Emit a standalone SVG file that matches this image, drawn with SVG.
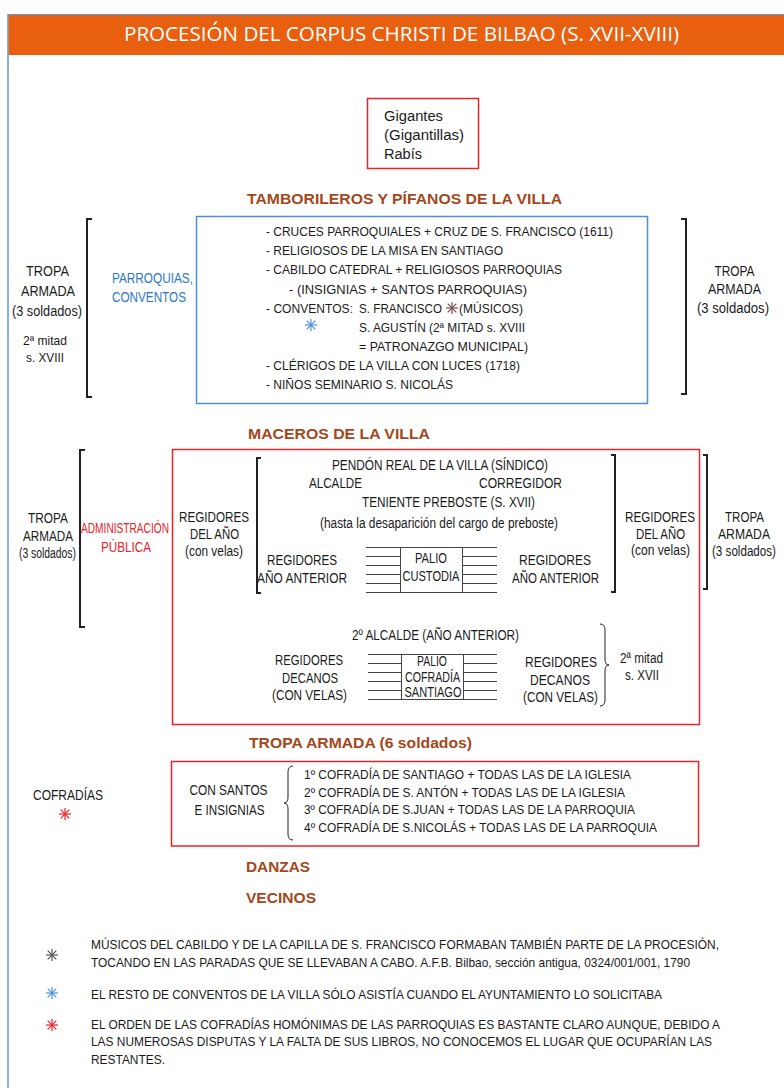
<svg xmlns="http://www.w3.org/2000/svg" xmlns:xlink="http://www.w3.org/1999/xlink" width="784" height="1088" viewBox="0 0 784 1088">
<style>
.t{font-family:"Liberation Sans",Arial,sans-serif;font-size:14px;fill:#1a1a1a}
.s{font-size:13px}
.c{text-anchor:middle}
.h{font-family:"Liberation Sans",Arial,sans-serif;font-weight:bold;font-size:15.5px;fill:#A4471B}
.blue{fill:#2C78C6}
.red{fill:#E8232A}
.br{fill:none;stroke:#222;stroke-width:2}
.ln{stroke:#444;stroke-width:1}
.box{fill:#fff;stroke:#444;stroke-width:1}
.rbox{fill:none;stroke:#E8232A;stroke-width:1.5}
.bbox{fill:none;stroke:#4A90D9;stroke-width:1.5}
.brace{fill:none;stroke:#222;stroke-width:1}
</style>
<defs>
<g id="ast" stroke-width="1.2"><line x1="0" y1="-6" x2="0" y2="6"/><line x1="-6" y1="0" x2="6" y2="0"/><line x1="-4.3" y1="-4.3" x2="4.3" y2="4.3"/><line x1="-4.3" y1="4.3" x2="4.3" y2="-4.3"/></g>
</defs>
<rect width="784" height="1088" fill="#fff"/>
<line x1="8" y1="14" x2="8" y2="1088" stroke="#5B9BD5" stroke-width="1.5"/>
<line x1="8" y1="14.5" x2="784" y2="14.5" stroke="#5B9BD5" stroke-width="1"/>
<g id="header">
<rect x="8.5" y="15" width="775.5" height="40" fill="#E8600F"/>
<text x="401.5" y="40.5" text-anchor="middle" font-family="'Open Sans',sans-serif" font-size="20" fill="#fff" textLength="555" lengthAdjust="spacingAndGlyphs">PROCESIÓN DEL CORPUS CHRISTI DE BILBAO (S. XVII-XVIII)</text>
</g>
<g id="gigantes">
<rect x="367.5" y="98.5" width="111" height="70" class="rbox"/>
<text class="t" font-size="17" x="384" y="121" textLength="59" lengthAdjust="spacingAndGlyphs">Gigantes</text>
<text class="t" font-size="17" x="384" y="140" textLength="80" lengthAdjust="spacingAndGlyphs">(Gigantillas)</text>
<text class="t" font-size="17" x="384" y="159" textLength="38" lengthAdjust="spacingAndGlyphs">Rabís</text>
</g>
<g id="tamborileros"><text class="h" x="247" y="204" textLength="315" lengthAdjust="spacingAndGlyphs">TAMBORILEROS Y PÍFANOS DE LA VILLA</text></g>
<g id="tropa1-left">
<path class="br" d="M92,219 H87 V397 H92"/>
<text class="t c" font-size="15" x="47.5" y="275.5" textLength="43" lengthAdjust="spacingAndGlyphs">TROPA</text>
<text class="t c" font-size="15" x="48" y="295.5" textLength="54" lengthAdjust="spacingAndGlyphs">ARMADA</text>
<text class="t c" font-size="15" x="47" y="315.5" textLength="70" lengthAdjust="spacingAndGlyphs">(3 soldados)</text>
<text class="t c s" x="45" y="344.5" textLength="44" lengthAdjust="spacingAndGlyphs">2ª mitad</text>
<text class="t c s" x="45" y="361.5" textLength="38" lengthAdjust="spacingAndGlyphs">s. XVIII</text>
</g>
<g id="parroquias">
<text class="t blue" x="112" y="283" textLength="81" lengthAdjust="spacingAndGlyphs">PARROQUIAS,</text>
<text class="t blue" x="112" y="302" textLength="74" lengthAdjust="spacingAndGlyphs">CONVENTOS</text>
<rect x="196.5" y="216.5" width="451" height="187" class="bbox"/>
<text class="t s" x="266" y="235.5" textLength="347" lengthAdjust="spacingAndGlyphs">- CRUCES PARROQUIALES + CRUZ DE S. FRANCISCO (1611)</text>
<text class="t s" x="266" y="254.5" textLength="237" lengthAdjust="spacingAndGlyphs">- RELIGIOSOS DE LA MISA EN SANTIAGO</text>
<text class="t s" x="266" y="273.5" textLength="296" lengthAdjust="spacingAndGlyphs">- CABILDO CATEDRAL + RELIGIOSOS PARROQUIAS</text>
<text class="t s" x="289" y="293.5" textLength="238" lengthAdjust="spacingAndGlyphs">- (INSIGNIAS + SANTOS PARROQUIAS)</text>
<text class="t s" x="266" y="312.5" textLength="87" lengthAdjust="spacingAndGlyphs">- CONVENTOS:</text>
<text class="t s" x="359" y="312.5" textLength="83" lengthAdjust="spacingAndGlyphs">S. FRANCISCO</text>
<use href="#ast" x="452" y="308" stroke="#7B4A4A"/>
<text class="t s" x="459" y="312.5" textLength="64" lengthAdjust="spacingAndGlyphs">(MÚSICOS)</text>
<use href="#ast" x="311" y="325" stroke="#4A90D9"/>
<text class="t s" x="359" y="331.5" textLength="166" lengthAdjust="spacingAndGlyphs">S. AGUSTÍN (2ª MITAD s. XVIII</text>
<text class="t s" x="359" y="350.5" textLength="169" lengthAdjust="spacingAndGlyphs">= PATRONAZGO MUNICIPAL)</text>
<text class="t s" x="266" y="369.5" textLength="254" lengthAdjust="spacingAndGlyphs">- CLÉRIGOS DE LA VILLA CON LUCES (1718)</text>
<text class="t s" x="266" y="388.5" textLength="187" lengthAdjust="spacingAndGlyphs">- NIÑOS SEMINARIO S. NICOLÁS</text>
</g>
<g id="tropa1-right">
<path class="br" d="M681,219 H686 V394 H681"/>
<text class="t c" font-size="15" x="734.5" y="276" textLength="40" lengthAdjust="spacingAndGlyphs">TROPA</text>
<text class="t c" font-size="15" x="734.5" y="294" textLength="53" lengthAdjust="spacingAndGlyphs">ARMADA</text>
<text class="t c" font-size="15" x="733" y="312.5" textLength="72" lengthAdjust="spacingAndGlyphs">(3 soldados)</text>
</g>
<g id="maceros"><text class="h" x="248" y="439" textLength="182" lengthAdjust="spacingAndGlyphs">MACEROS DE LA VILLA</text></g>
<g id="tropa2-left">
<path class="br" d="M85,450 H80 V627 H85"/>
<text class="t c" x="48" y="523" textLength="40" lengthAdjust="spacingAndGlyphs">TROPA</text>
<text class="t c" x="48" y="541" textLength="50" lengthAdjust="spacingAndGlyphs">ARMADA</text>
<text class="t c" x="47.5" y="558" textLength="57" lengthAdjust="spacingAndGlyphs">(3 soldados)</text>
</g>
<g id="administracion">
<text class="t c red" x="125" y="533" textLength="88" lengthAdjust="spacingAndGlyphs">ADMINISTRACIÓN</text>
<text class="t c red" x="126" y="552" textLength="50" lengthAdjust="spacingAndGlyphs">PÚBLICA</text>
<rect x="172.5" y="449.5" width="527" height="275" class="rbox"/>
<text class="t c" x="214" y="522" textLength="70" lengthAdjust="spacingAndGlyphs">REGIDORES</text>
<text class="t c" x="214.5" y="539" textLength="49" lengthAdjust="spacingAndGlyphs">DEL AÑO</text>
<text class="t c" x="214" y="556" textLength="58" lengthAdjust="spacingAndGlyphs">(con velas)</text>
<path class="br" d="M261,458 H257 V593 H261"/>
<path class="br" d="M611,455 H615 V592 H611"/>
<text class="t c" x="440" y="470" textLength="216" lengthAdjust="spacingAndGlyphs">PENDÓN REAL DE LA VILLA (SÍNDICO)</text>
<text class="t c" x="335.5" y="488" textLength="53" lengthAdjust="spacingAndGlyphs">ALCALDE</text>
<text class="t c" x="520.5" y="488" textLength="83" lengthAdjust="spacingAndGlyphs">CORREGIDOR</text>
<text class="t c" x="448.5" y="507" textLength="173" lengthAdjust="spacingAndGlyphs">TENIENTE PREBOSTE (S. XVII)</text>
<text class="t c" x="439" y="528" textLength="238" lengthAdjust="spacingAndGlyphs">(hasta la desaparición del cargo de preboste)</text>
<text class="t c" x="302" y="565" textLength="70" lengthAdjust="spacingAndGlyphs">REGIDORES</text>
<text class="t c" x="302" y="583" textLength="90" lengthAdjust="spacingAndGlyphs">AÑO ANTERIOR</text>
<text class="t c" x="555" y="565" textLength="72" lengthAdjust="spacingAndGlyphs">REGIDORES</text>
<text class="t c" x="555.5" y="583" textLength="87" lengthAdjust="spacingAndGlyphs">AÑO ANTERIOR</text>
<g class="ln">
<line x1="366" y1="547.5" x2="400" y2="547.5"/><line x1="366" y1="556.5" x2="400" y2="556.5"/><line x1="366" y1="565.5" x2="400" y2="565.5"/><line x1="366" y1="574.5" x2="400" y2="574.5"/><line x1="366" y1="583.5" x2="400" y2="583.5"/><line x1="366" y1="592.5" x2="400" y2="592.5"/>
<line x1="462" y1="547.5" x2="497" y2="547.5"/><line x1="462" y1="556.5" x2="497" y2="556.5"/><line x1="462" y1="565.5" x2="497" y2="565.5"/><line x1="462" y1="574.5" x2="497" y2="574.5"/><line x1="462" y1="583.5" x2="497" y2="583.5"/><line x1="462" y1="592.5" x2="497" y2="592.5"/>
</g>
<rect x="400.5" y="547.5" width="62" height="45" class="box"/>
<text class="t c" font-size="13" x="431" y="562.5" textLength="32" lengthAdjust="spacingAndGlyphs">PALIO</text>
<text class="t c" font-size="13" x="431" y="580.5" textLength="57" lengthAdjust="spacingAndGlyphs">CUSTODIA</text>
<text class="t c" x="435.5" y="640" textLength="167" lengthAdjust="spacingAndGlyphs">2º ALCALDE (AÑO ANTERIOR)</text>
<text class="t c" x="309" y="665" textLength="68" lengthAdjust="spacingAndGlyphs">REGIDORES</text>
<text class="t c" x="310" y="683" textLength="56" lengthAdjust="spacingAndGlyphs">DECANOS</text>
<text class="t c" x="309.5" y="700" textLength="75" lengthAdjust="spacingAndGlyphs">(CON VELAS)</text>
<g class="ln">
<line x1="368" y1="654.5" x2="401" y2="654.5"/><line x1="368" y1="663.5" x2="401" y2="663.5"/><line x1="368" y1="672.5" x2="401" y2="672.5"/><line x1="368" y1="681.5" x2="401" y2="681.5"/><line x1="368" y1="690.5" x2="401" y2="690.5"/><line x1="368" y1="699.5" x2="401" y2="699.5"/>
<line x1="463" y1="654.5" x2="497" y2="654.5"/><line x1="463" y1="663.5" x2="497" y2="663.5"/><line x1="463" y1="672.5" x2="497" y2="672.5"/><line x1="463" y1="681.5" x2="497" y2="681.5"/><line x1="463" y1="690.5" x2="497" y2="690.5"/><line x1="463" y1="699.5" x2="497" y2="699.5"/>
</g>
<rect x="401.5" y="654.5" width="62" height="45" class="box"/>
<text class="t c" font-size="12" x="432" y="665.5" textLength="30" lengthAdjust="spacingAndGlyphs">PALIO</text>
<text class="t c" font-size="12" x="432.5" y="681.5" textLength="55" lengthAdjust="spacingAndGlyphs">COFRADÍA</text>
<text class="t c" font-size="12" x="433" y="697" textLength="57" lengthAdjust="spacingAndGlyphs">SANTIAGO</text>
<text class="t c" x="561" y="667" textLength="72" lengthAdjust="spacingAndGlyphs">REGIDORES</text>
<text class="t c" x="560" y="685" textLength="60" lengthAdjust="spacingAndGlyphs">DECANOS</text>
<text class="t c" x="560.5" y="702" textLength="75" lengthAdjust="spacingAndGlyphs">(CON VELAS)</text>
<path class="brace" d="M600,624 Q605,624 605,630 L605,659 Q605,665 609,665 Q605,665 605,671 L605,700 Q605,706 600,706"/>
<text class="t c" x="641.5" y="662.5" textLength="43" lengthAdjust="spacingAndGlyphs">2ª mitad</text>
<text class="t c" x="642" y="680" textLength="34" lengthAdjust="spacingAndGlyphs">s. XVII</text>
</g>
<g id="regidores-right">
<text class="t c" x="660" y="522" textLength="70" lengthAdjust="spacingAndGlyphs">REGIDORES</text>
<text class="t c" x="660.5" y="539" textLength="49" lengthAdjust="spacingAndGlyphs">DEL AÑO</text>
<text class="t c" x="660.5" y="555" textLength="59" lengthAdjust="spacingAndGlyphs">(con velas)</text>
</g>
<g id="tropa2-right">
<path class="br" d="M703,455 H707 V589 H703"/>
<text class="t c" x="744.5" y="522" textLength="39" lengthAdjust="spacingAndGlyphs">TROPA</text>
<text class="t c" x="744" y="539" textLength="52" lengthAdjust="spacingAndGlyphs">ARMADA</text>
<text class="t c" x="744" y="556" textLength="64" lengthAdjust="spacingAndGlyphs">(3 soldados)</text>
</g>
<g id="tropa6"><text class="h" x="249" y="748" textLength="223" lengthAdjust="spacingAndGlyphs">TROPA ARMADA (6 soldados)</text></g>
<g id="cofradias">
<text class="t c" x="68" y="800" textLength="70" lengthAdjust="spacingAndGlyphs">COFRADÍAS</text>
<use href="#ast" x="65" y="814" stroke="#E8232A"/>
<rect x="171.5" y="761.5" width="527" height="84.5" class="rbox"/>
<text class="t c" x="228.5" y="795" textLength="78" lengthAdjust="spacingAndGlyphs">CON SANTOS</text>
<text class="t c" x="229.5" y="815" textLength="70" lengthAdjust="spacingAndGlyphs">E INSIGNIAS</text>
<path class="brace" d="M293,766 Q288,766 288,772 L288,797 Q288,803 284,803 Q288,803 288,809 L288,834 Q288,840 293,840"/>
<text class="t s" x="304" y="779" textLength="327" lengthAdjust="spacingAndGlyphs">1º COFRADÍA DE SANTIAGO + TODAS LAS DE LA IGLESIA</text>
<text class="t s" x="304" y="797" textLength="321" lengthAdjust="spacingAndGlyphs">2º COFRADÍA DE S. ANTÓN + TODAS LAS DE LA IGLESIA</text>
<text class="t s" x="304" y="814" textLength="331" lengthAdjust="spacingAndGlyphs">3º COFRADÍA DE S.JUAN + TODAS LAS DE LA PARROQUIA</text>
<text class="t s" x="304" y="832" textLength="353" lengthAdjust="spacingAndGlyphs">4º COFRADÍA DE S.NICOLÁS + TODAS LAS DE LA PARROQUIA</text>
</g>
<g id="danzas"><text class="h" x="246" y="872" textLength="64" lengthAdjust="spacingAndGlyphs">DANZAS</text></g>
<g id="vecinos"><text class="h" x="246" y="903" textLength="70" lengthAdjust="spacingAndGlyphs">VECINOS</text></g>
<g id="notes">
<use href="#ast" x="52" y="955" stroke="#555"/>
<text class="t s" x="91" y="948.5" textLength="628" lengthAdjust="spacingAndGlyphs">MÚSICOS DEL CABILDO Y DE LA CAPILLA DE S. FRANCISCO FORMABAN TAMBIÉN PARTE DE LA PROCESIÓN,</text>
<text class="t s" x="91" y="967" textLength="599" lengthAdjust="spacingAndGlyphs">TOCANDO EN LAS PARADAS QUE SE LLEVABAN A CABO. A.F.B. Bilbao, sección antigua, 0324/001/001, 1790</text>
<use href="#ast" x="52" y="993" stroke="#4A90D9"/>
<text class="t s" x="91" y="999" textLength="571" lengthAdjust="spacingAndGlyphs">EL RESTO DE CONVENTOS DE LA VILLA SÓLO ASISTÍA CUANDO EL AYUNTAMIENTO LO SOLICITABA</text>
<use href="#ast" x="52" y="1025" stroke="#E8232A"/>
<text class="t s" x="91" y="1028.5" textLength="629" lengthAdjust="spacingAndGlyphs">EL ORDEN DE LAS COFRADÍAS HOMÓNIMAS DE LAS PARROQUIAS ES BASTANTE CLARO AUNQUE, DEBIDO A</text>
<text class="t s" x="91" y="1046" textLength="621" lengthAdjust="spacingAndGlyphs">LAS NUMEROSAS DISPUTAS Y LA FALTA DE SUS LIBROS, NO CONOCEMOS EL LUGAR QUE OCUPARÍAN LAS</text>
<text class="t s" x="91" y="1063.5" textLength="74" lengthAdjust="spacingAndGlyphs">RESTANTES.</text>
</g>
</svg>
